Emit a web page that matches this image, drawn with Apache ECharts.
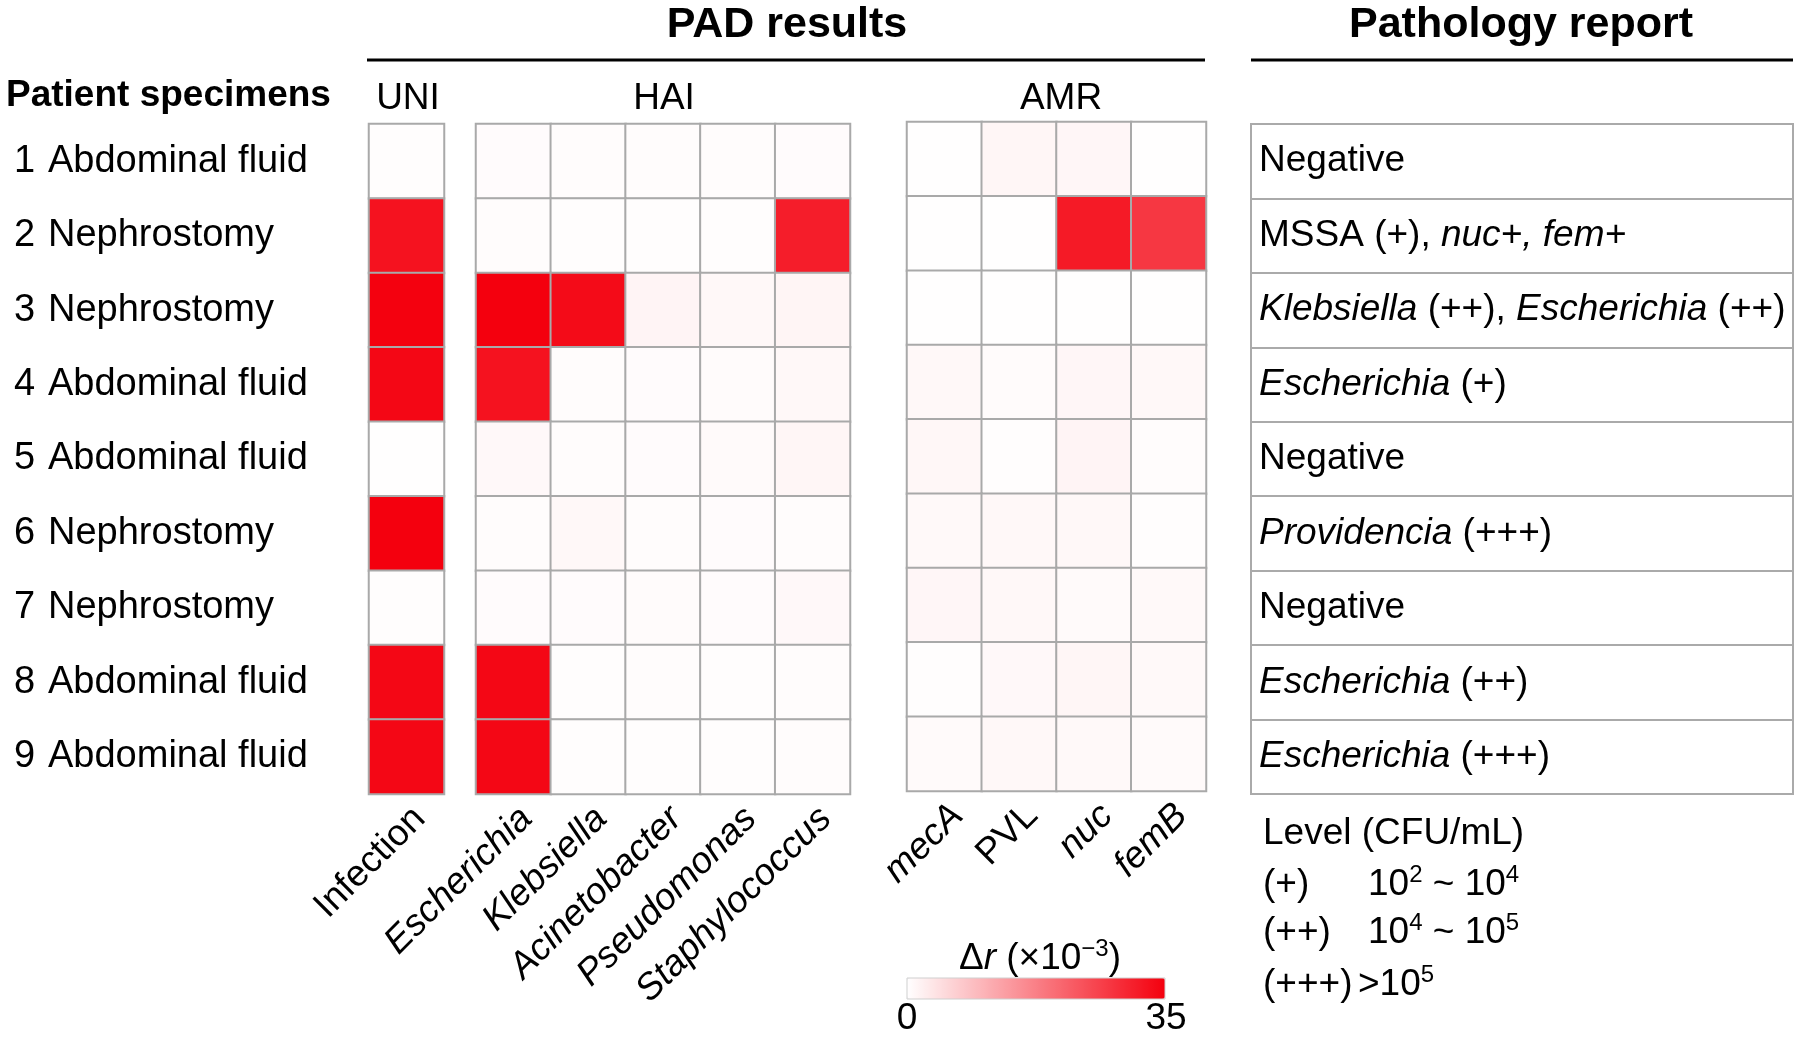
<!DOCTYPE html>
<html>
<head>
<meta charset="utf-8">
<script src="https://cdn.jsdelivr.net/npm/echarts@6/dist/echarts.min.js"></script>
<style>
html,body{margin:0;padding:0;background:#fff;}
#main{width:1800px;height:1038px;}
</style>
</head>
<body>
<div id="main"></div>
<script>
var FONT = "'Liberation Sans', Arial, Helvetica, sans-serif";

// rows (patient specimens)
var rowIds = ['1','2','3','4','5','6','7','8','9'];
var specimens = ['Abdominal fluid','Nephrostomy','Nephrostomy','Abdominal fluid','Abdominal fluid',
                 'Nephrostomy','Nephrostomy','Abdominal fluid','Abdominal fluid'];

// column groups
var uniCats = ['Infection'];
var haiCats = ['Escherichia','Klebsiella','Acinetobacter','Pseudomonas','Staphylococcus'];
var amrCats = ['mecA','PVL','nuc','femB'];
var italicNames = ['Escherichia','Klebsiella','Acinetobacter','Pseudomonas','Staphylococcus','mecA','nuc','femB'];

// delta r (x10^-3), one value per row
var uniVals = [0.3, 32.5, 34.8, 34, 0.2, 35, 0.3, 34, 34];
// one row per specimen, columns as haiCats
var haiVals = [
    [0.5, 0.4, 0.4, 0.4, 0.5],
    [0.4, 0.3, 0.3, 0.3, 31],
    [35, 33.5, 1.5, 1.0, 1.4],
    [32.5, 0.4, 0.5, 0.6, 1.0],
    [0.9, 0.4, 0.5, 0.7, 1.3],
    [0.4, 1.0, 0.4, 0.5, 0.4],
    [0.5, 0.5, 0.6, 0.5, 0.9],
    [34, 0.3, 0.4, 0.3, 0.4],
    [34, 0.3, 0.3, 0.3, 0.4]
];
// columns as amrCats
var amrVals = [
    [0.1, 1.3, 1.2, 0.1],
    [0.1, 0.1, 31.5, 27.5],
    [0.1, 0.1, 0.2, 0.1],
    [1.0, 0.6, 1.2, 1.0],
    [1.1, 0.3, 1.5, 0.4],
    [0.8, 1.0, 1.0, 0.3],
    [1.2, 1.0, 0.7, 0.8],
    [0.3, 0.9, 1.3, 0.8],
    [0.7, 1.0, 0.8, 0.7]
];

var reportTexts = [
    'Negative',
    'MSSA (+), {i|nuc+, fem+}',
    '{i|Klebsiella} (++), {i|Escherichia} (++)',
    '{i|Escherichia} (+)',
    'Negative',
    '{i|Providencia} (+++)',
    'Negative',
    '{i|Escherichia} (++)',
    '{i|Escherichia} (+++)'
];

var levelNames = ['(+)', '(++)', '(+++)'];
var levelRanges = ['10{s|2} ~ 10{s|4}', '10{s|4} ~ 10{s|5}', '>10{s|5}'];

var vMin = 0, vMax = 35;

function toCells(rows) {
    var out = [];
    rows.forEach(function (row, r) {
        row.forEach(function (v, c) { out.push([c, r, v]); });
    });
    return out;
}
var uniData = uniVals.map(function (v, r) { return [0, r, v]; });
var haiData = toCells(haiVals);
var amrData = toCells(amrVals);

var chart = echarts.init(document.getElementById('main'));

function xLabel() {
    return {
        rotate: 45,
        interval: 0,
        margin: 6,
        verticalAlign: 'top',
        fontSize: 37,
        color: '#000',
        fontFamily: FONT,
        formatter: function (v) {
            return italicNames.indexOf(v) >= 0 ? '{i|' + v + '}' : v;
        },
        rich: { i: { fontStyle: 'italic', fontSize: 37, fontFamily: FONT, color: '#000' } }
    };
}
function catX(idx, cats) {
    return {
        type: 'category', gridIndex: idx, data: cats,
        axisLine: { show: false }, axisTick: { show: false }, splitLine: { show: false },
        axisLabel: xLabel()
    };
}
function catY(idx) {
    return {
        type: 'category', gridIndex: idx, data: rowIds, inverse: true,
        axisLine: { show: false }, axisTick: { show: false }, splitLine: { show: false },
        axisLabel: { show: false }
    };
}
function heat(idx, data) {
    return {
        type: 'heatmap',
        xAxisIndex: idx, yAxisIndex: idx,
        data: data,
        itemStyle: { borderColor: '#a9a9a9', borderWidth: 2 },
        emphasis: { disabled: true }
    };
}

var yLeft = catY(0);
yLeft.axisLabel = {
    show: true,
    align: 'left',
    margin: 355,
    fontSize: 38,
    color: '#000',
    fontFamily: FONT,
    formatter: function (v, i) { return '{n|' + v + '}' + specimens[i]; },
    rich: { n: { width: 34, fontSize: 38, fontFamily: FONT, color: '#000' } }
};

var txt = function (s, x, y, size, opt) {
    opt = opt || {};
    return {
        type: 'text', z: 100,
        style: {
            text: s, x: x, y: y,
            fontSize: size, fontFamily: FONT,
            fontWeight: opt.bold ? 'bold' : 'normal',
            fill: '#000',
            textAlign: opt.align || 'center',
            textVerticalAlign: 'middle',
            rich: opt.rich
        }
    };
};
function supRich(size) {
    return {
        s: { fontSize: Math.round(size * 0.66), fontFamily: FONT, padding: [0, 0, Math.round(size * 0.5), 0], fill: '#000' },
        i: { fontStyle: 'italic', fontSize: size, fontFamily: FONT, fill: '#000' }
    };
}

var graphics = [
    txt('PAD results', 787, 25, 43, { bold: true }),
    txt('Pathology report', 1521, 25, 43, { bold: true }),
    { type: 'line', z: 100, shape: { x1: 367, y1: 60, x2: 1205, y2: 60 }, style: { stroke: '#000', lineWidth: 3 } },
    { type: 'line', z: 100, shape: { x1: 1251, y1: 60, x2: 1793, y2: 60 }, style: { stroke: '#000', lineWidth: 3 } },
    txt('Patient specimens', 6, 96, 37, { bold: true, align: 'left' }),
    txt('UNI', 408, 99, 37),
    txt('HAI', 664, 99, 37),
    txt('AMR', 1061, 99, 37),
    txt('Δ{i|r} (×10{s|−3})', 1040, 959, 37, { rich: supRich(37) }),
    txt('0', 907, 1019, 37),
    txt('35', 1166, 1019, 37),
    { type: 'rect', z: 100, shape: { x: 907, y: 978, width: 258, height: 21 }, style: { fill: 'none', stroke: '#cfcfcf', lineWidth: 1 } },
    txt('Level (CFU/mL)', 1263, 834, 37, { align: 'left' })
];
var levelY = [885, 933, 985];
var levelX = [1368, 1368, 1358];
levelNames.forEach(function (n, k) {
    graphics.push(txt(n, 1263, levelY[k], 37, { align: 'left' }));
    graphics.push(txt(levelRanges[k], levelX[k], levelY[k], 37, { align: 'left', rich: supRich(37) }));
});

var option = {
    backgroundColor: '#fff',
    animation: false,
    textStyle: { fontFamily: FONT },
    grid: [
        { left: 369, top: 124, width: 75, height: 670 },
        { left: 476, top: 124, width: 374, height: 670 },
        { left: 907, top: 122, width: 299, height: 669 },
        { left: 1251, top: 124, width: 542, height: 670, show: true, borderColor: '#aaa', borderWidth: 2 }
    ],
    xAxis: [
        catX(0, uniCats),
        catX(1, haiCats),
        catX(2, amrCats),
        { type: 'value', gridIndex: 3, min: 0, max: 1, show: false }
    ],
    yAxis: [
        yLeft,
        catY(1),
        catY(2),
        {
            type: 'category', gridIndex: 3, data: reportTexts, inverse: true,
            axisLine: { show: false }, axisTick: { show: false },
            splitLine: { show: true, interval: 0, lineStyle: { color: '#aaa', width: 2 } },
            axisLabel: {
                inside: true, margin: 8, interval: 0,
                fontSize: 37, color: '#000', fontFamily: FONT,
                rich: { i: { fontStyle: 'italic', fontSize: 37, fontFamily: FONT, color: '#000' } }
            }
        }
    ],
    visualMap: {
        type: 'continuous',
        seriesIndex: [0, 1, 2],
        min: vMin, max: vMax,
        orient: 'horizontal',
        left: 907, top: 978,
        itemWidth: 21, itemHeight: 258,
        padding: 0,
        calculable: false,
        hoverLink: false,
        text: null,
        showLabel: false,
        inRange: { color: ['#ffffff', '#f4000e'] }
    },
    series: [
        heat(0, uniData),
        heat(1, haiData),
        heat(2, amrData)
    ],
    graphic: graphics
};
chart.setOption(option);
</script>
</body>
</html>
